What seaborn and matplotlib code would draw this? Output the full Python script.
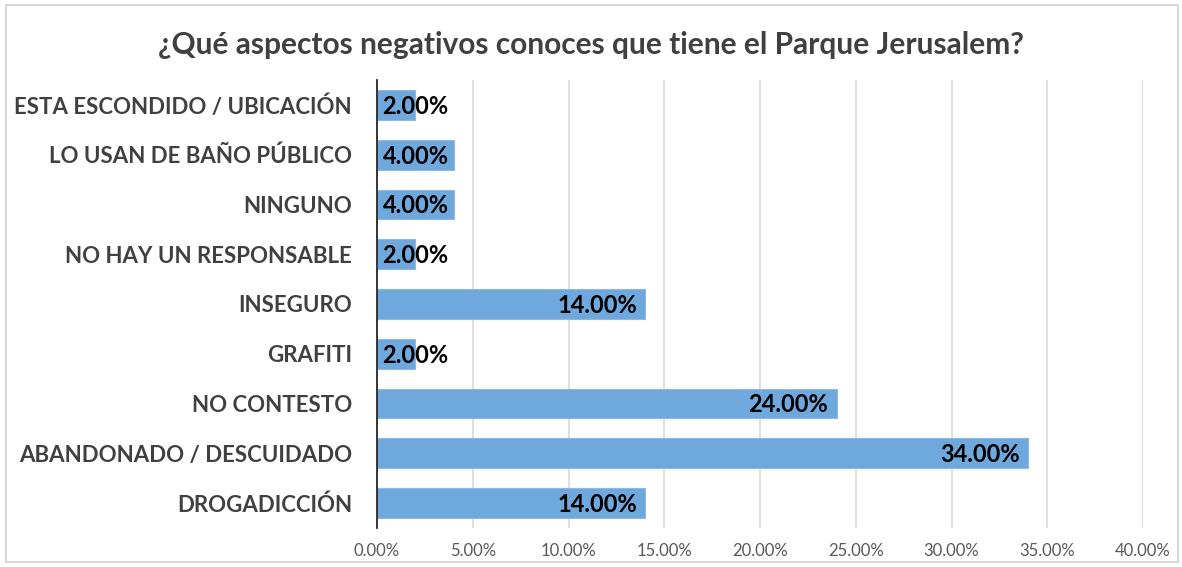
import pandas as pd
import matplotlib.pyplot as plt
from matplotlib.patches import Rectangle
from matplotlib.ticker import FuncFormatter
import seaborn as sns

# Datos (de arriba hacia abajo)
categorias = [
    "ESTA ESCONDIDO / UBICACIÓN",
    "LO USAN DE BAÑO PÚBLICO",
    "NINGUNO",
    "NO HAY UN RESPONSABLE",
    "INSEGURO",
    "GRAFITI",
    "NO CONTESTO",
    "ABANDONADO / DESCUIDADO",
    "DROGADICCIÓN",
]
porcentajes = [2, 4, 4, 2, 14, 2, 24, 34, 14]
ticks_x = [0, 5, 10, 15, 20, 25, 30, 35, 40]

df = pd.DataFrame({"Aspecto": categorias, "Porcentaje": porcentajes})

sns.set_style("white")
plt.rcParams["font.family"] = ["Lato", "DejaVu Sans"]

fig = plt.figure(figsize=(11.82, 5.67), dpi=100)
ax = fig.add_axes([377 / 1182, 1 - 528 / 567, (1143 - 377) / 1182, (528 - 80) / 567])

# Marco exterior
fig.patches.append(Rectangle((6 / 1182, 5 / 567), 1172 / 1182, 557 / 567,
                             transform=fig.transFigure, fill=False,
                             edgecolor="#d0d0d0", linewidth=1.2))

sns.barplot(data=df, x="Porcentaje", y="Aspecto", order=categorias, orient="h",
            color="#6FA8DC", saturation=1, width=0.6, edgecolor="#8db9e4",
            linewidth=0.8, ax=ax, zorder=3)

ax.set_xlim(0, 40)
ax.set_xticks(ticks_x)
ax.xaxis.set_major_formatter(FuncFormatter(lambda v, p: f"{v:.2f}%"))
ax.grid(axis="x", color="#d9d9d9", linewidth=1.2, zorder=0)
ax.set_axisbelow(True)
for s in ["top", "right", "bottom"]:
    ax.spines[s].set_visible(False)
ax.spines["left"].set_color("#262626")
ax.spines["left"].set_linewidth(1.3)
ax.spines["left"].set_zorder(4)
ax.tick_params(axis="x", length=0, labelsize=12, labelcolor="#595959", pad=11)
ax.tick_params(axis="y", length=0, labelsize=16, labelcolor="#404040", pad=18)
for lbl in ax.get_yticklabels():
    lbl.set_fontweight("bold")
ax.set_xlabel("")
ax.set_ylabel("")

# Etiquetas de valor
for i, v in enumerate(porcentajes):
    texto = f"{v:.2f}%"
    if v < 5:
        ax.annotate(texto, xy=(0, i), xytext=(4, -1), textcoords="offset points",
                    ha="left", va="center", fontsize=17, fontweight="bold",
                    color="black", zorder=5)
    else:
        ax.annotate(texto, xy=(v, i), xytext=(-6, -1), textcoords="offset points",
                    ha="right", va="center", fontsize=17, fontweight="bold",
                    color="black", zorder=5)

fig.text(0.5, 1 - 45 / 567, "¿Qué aspectos negativos conoces que tiene el Parque Jerusalem?",
         ha="center", va="center", fontsize=21.5, fontweight="bold", color="#404040")

fig.savefig("out.png", dpi=100, facecolor="white")
